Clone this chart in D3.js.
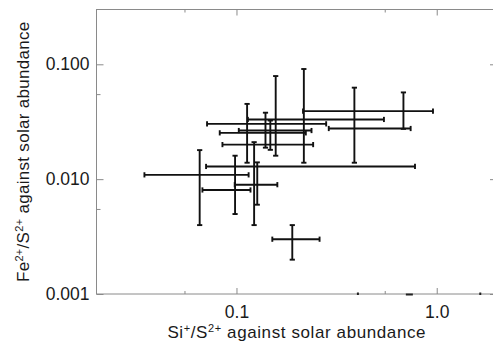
<!DOCTYPE html>
<html>
<head>
<meta charset="utf-8">
<script src="https://cdn.jsdelivr.net/npm/d3@7"></script>
<style>
  body { margin: 0; background: #fff; }
  svg { display: block; font-family: "Liberation Sans", Arial, sans-serif; }
  .frame { fill: none; stroke: #8a8a8a; stroke-width: 1; }
  .axis line { stroke: #8a8a8a; }
  .axis path { display: none; }
  .axis text { fill: #1a1a1a; font-size: 17.5px; font-family: "Liberation Sans", Arial, sans-serif; }
  .bar { stroke: #111; stroke-width: 1.9; fill: none; }
  .label { fill: #1a1a1a; font-size: 17px; }
</style>
</head>
<body>
<div id="chart"></div>
<script>
(function () {
  // Si+/S2+ (x) and Fe2+/S2+ (y), both relative to solar, with error bar ends
  const xVal = [0.0655, 0.0984, 0.1225, 0.127, 0.190, 0.682, 0.388, 0.217, 0.157, 0.113, 0.1476, 0.1396];
  const xLo  = [0.0347, 0.0676, 0.0705, 0.098, 0.151, 0.215, 0.289, 0.114, 0.0713, 0.0851, 0.1027, 0.0825];
  const xHi  = [0.115, 0.1175, 0.779, 0.160, 0.260, 0.958, 0.741, 0.545, 0.2805, 0.2415, 0.237, 0.222];
  const yVal = [0.0109, 0.00805, 0.0129, 0.00895, 0.0030, 0.0391, 0.0276, 0.0331, 0.0303, 0.0200, 0.0265, 0.0253];
  const yLo  = [0.00398, 0.00497, 0.00398, 0.00599, 0.00199, 0.0274, 0.0139, 0.0139, 0.0160, 0.0139, 0.0180, 0.0188];
  const yHi  = [0.0179, 0.0160, 0.0210, 0.0140, 0.00398, 0.0569, 0.0626, 0.0910, 0.0790, 0.0452, 0.0324, 0.0379];

  const xDomain = [0.02, 2];
  const yDomain = [0.001, 0.3];
  const xMajor = [0.1, 1];
  const xMajorLabels = ["0.1", "1.0"];
  const xMinor = [0.055, 0.55];
  const yMajor = [0.001, 0.01, 0.1];
  const yMajorLabels = ["0.001", "0.010", "0.100"];
  const yMinor = [0.0055, 0.055];
  // stray marks sitting on the lower axis in the original
  const strayX = [0.404, 1.65];
  const strayDashX = [0.73];

  const W = 493, H = 342;
  const left = 96.5, right = 497, top = 9.5, bottom = 294;
  const cap = 2.6;

  const svg = d3.select("#chart").append("svg")
    .attr("width", W)
    .attr("height", H);

  const x = d3.scaleLog().domain(xDomain).range([left, right]);
  const y = d3.scaleLog().domain(yDomain).range([bottom, top]);

  svg.append("rect")
    .attr("class", "frame")
    .attr("x", left)
    .attr("y", top)
    .attr("width", right - left)
    .attr("height", bottom - top);

  function fmt(values, labels) {
    return function (d) { return labels[values.indexOf(d)]; };
  }

  // bottom / top
  svg.append("g").attr("class", "axis")
    .attr("transform", "translate(0," + bottom + ")")
    .call(d3.axisBottom(x).tickValues(xMajor).tickFormat(fmt(xMajor, xMajorLabels))
      .tickSizeInner(-6).tickSizeOuter(0).tickPadding(12));
  svg.append("g").attr("class", "axis")
    .attr("transform", "translate(0," + bottom + ")")
    .call(d3.axisBottom(x).tickValues(xMinor).tickFormat("").tickSizeInner(-3).tickSizeOuter(0));
  svg.append("g").attr("class", "axis")
    .attr("transform", "translate(0," + top + ")")
    .call(d3.axisTop(x).tickValues(xMajor).tickFormat("").tickSizeInner(-6).tickSizeOuter(0));
  svg.append("g").attr("class", "axis")
    .attr("transform", "translate(0," + top + ")")
    .call(d3.axisTop(x).tickValues(xMinor).tickFormat("").tickSizeInner(-3).tickSizeOuter(0));

  // left / right
  svg.append("g").attr("class", "axis")
    .attr("transform", "translate(" + left + ",0)")
    .call(d3.axisLeft(y).tickValues(yMajor).tickFormat(fmt(yMajor, yMajorLabels))
      .tickSizeInner(-7).tickSizeOuter(0).tickPadding(7));
  svg.append("g").attr("class", "axis")
    .attr("transform", "translate(" + left + ",0)")
    .call(d3.axisLeft(y).tickValues(yMinor).tickFormat("").tickSizeInner(-4).tickSizeOuter(0));
  svg.append("g").attr("class", "axis")
    .attr("transform", "translate(" + right + ",0)")
    .call(d3.axisRight(y).tickValues(yMajor).tickFormat("").tickSizeInner(-7).tickSizeOuter(0));
  svg.append("g").attr("class", "axis")
    .attr("transform", "translate(" + right + ",0)")
    .call(d3.axisRight(y).tickValues(yMinor).tickFormat("").tickSizeInner(-4).tickSizeOuter(0));

  svg.selectAll(".axis text").attr("fill", "#1a1a1a");

  svg.append("g").selectAll("rect.stray")
    .data(strayX)
    .enter().append("rect")
    .attr("x", function (d) { return x(d) - 1; })
    .attr("y", bottom - 1.5)
    .attr("width", 2)
    .attr("height", 2.5)
    .attr("fill", "#222");
  svg.append("g").selectAll("rect.dash")
    .data(strayDashX)
    .enter().append("rect")
    .attr("x", function (d) { return x(d) - 3.5; })
    .attr("y", bottom - 0.5)
    .attr("width", 7)
    .attr("height", 2)
    .attr("fill", "#222");

  // error bars
  const bars = svg.append("g");
  xVal.forEach(function (_, i) {
    const cy = y(yVal[i]), cx = x(xVal[i]);
    const x0 = x(xLo[i]), x1 = x(xHi[i]);
    const y0 = y(yLo[i]), y1 = y(yHi[i]);
    const segs = [
      [x0, cy, x1, cy],
      [x0, cy - cap, x0, cy + cap],
      [x1, cy - cap, x1, cy + cap],
      [cx, y0, cx, y1],
      [cx - cap, y0, cx + cap, y0],
      [cx - cap, y1, cx + cap, y1]
    ];
    bars.selectAll(null)
      .data(segs)
      .enter().append("line")
      .attr("class", "bar")
      .attr("x1", function (d) { return d[0]; })
      .attr("y1", function (d) { return d[1]; })
      .attr("x2", function (d) { return d[2]; })
      .attr("y2", function (d) { return d[3]; });
  });

  // axis titles
  const xt = svg.append("text")
    .attr("class", "label")
    .attr("text-anchor", "middle")
    .attr("letter-spacing", 0.6)
    .attr("x", (left + right) / 2)
    .attr("y", 338);
  xt.append("tspan").text("Si");
  xt.append("tspan").attr("dy", -6).attr("font-size", 11).text("+");
  xt.append("tspan").attr("dy", 6).text("/S");
  xt.append("tspan").attr("dy", -6).attr("font-size", 11).text("2+");
  xt.append("tspan").attr("dy", 6).text(" against solar abundance");

  const yt = svg.append("text")
    .attr("class", "label")
    .attr("text-anchor", "middle")
    .attr("letter-spacing", 0.3)
    .attr("transform", "translate(29," + ((top + bottom) / 2) + ") rotate(-90)");
  yt.append("tspan").text("Fe");
  yt.append("tspan").attr("dy", -6.5).attr("font-size", 11).text("2+");
  yt.append("tspan").attr("dy", 6.5).text("/S");
  yt.append("tspan").attr("dy", -6.5).attr("font-size", 11).text("2+");
  yt.append("tspan").attr("dy", 6.5).text(" against solar abundance");
})();
</script>
</body>
</html>
